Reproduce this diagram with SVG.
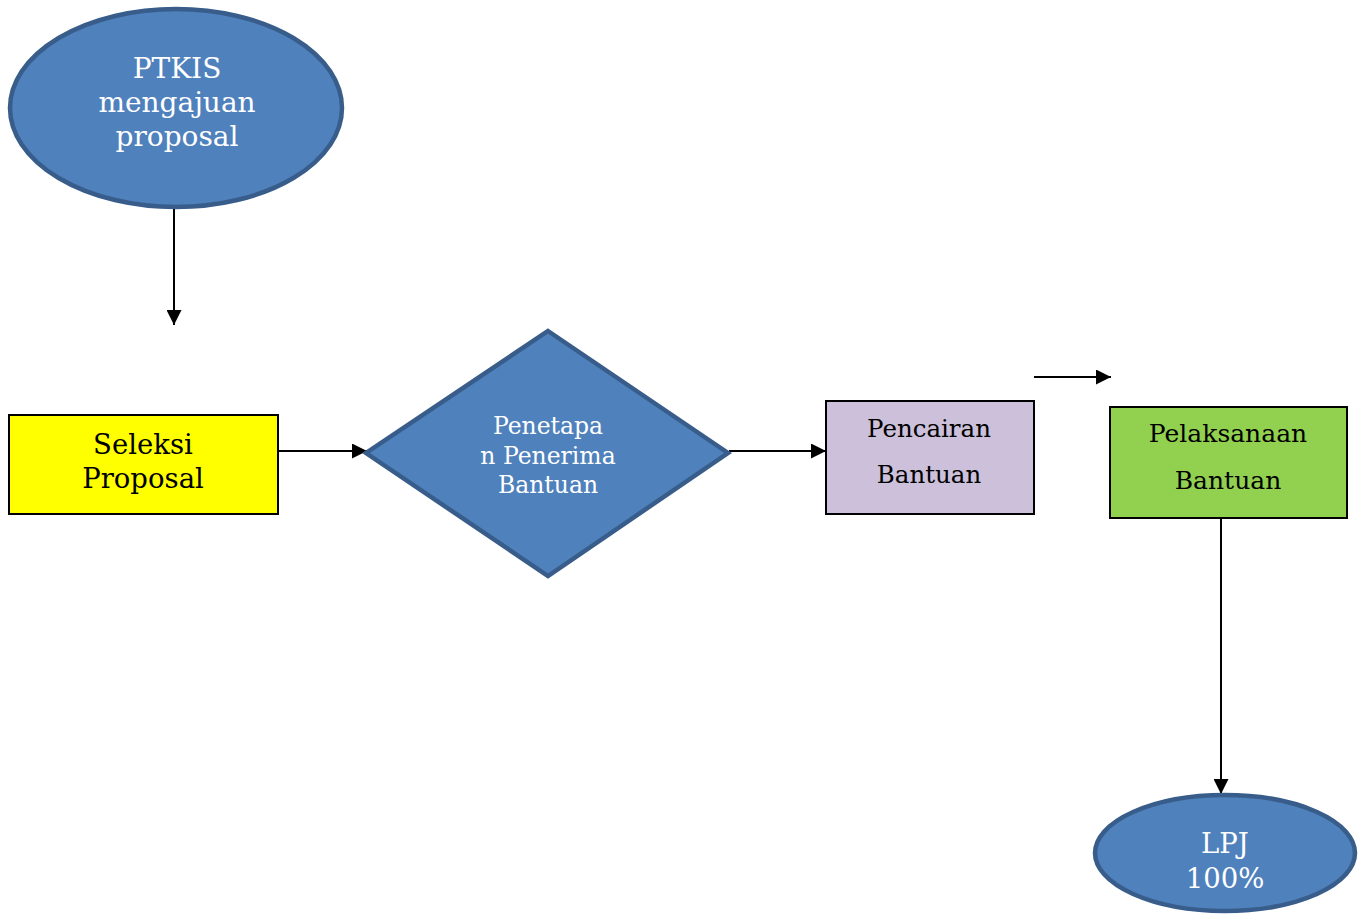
<svg xmlns="http://www.w3.org/2000/svg" width="1358" height="915" viewBox="0 0 1358 915">
<defs>
<marker id="arr" viewBox="0 0 10 10" refX="10" refY="5" markerWidth="15" markerHeight="15" markerUnits="userSpaceOnUse" orient="auto">
<path d="M0,0 L10,5 L0,10 z" fill="#000"/>
</marker>
<style>
.blue{fill:#4f81bd;stroke:#385d8a;stroke-width:4.5}
.box{stroke:#000;stroke-width:2}
.t{font-family:"DejaVu Serif","Liberation Serif",serif;text-anchor:middle}
.w{fill:#fff}
.k{fill:#000}
.c{stroke:#000;stroke-width:2;fill:none}
</style>
</defs>
<rect width="1358" height="915" fill="#fff"/>
<g id="connectors">
<line class="c" x1="174" y1="208" x2="174" y2="325" marker-end="url(#arr)"/>
<line class="c" x1="278" y1="451" x2="367" y2="451" marker-end="url(#arr)"/>
<line class="c" x1="729" y1="451" x2="826" y2="451" marker-end="url(#arr)"/>
<line class="c" x1="1034" y1="377" x2="1111" y2="377" marker-end="url(#arr)"/>
<line class="c" x1="1221" y1="518" x2="1221" y2="794" marker-end="url(#arr)"/>
</g>
<g id="ptkis">
<ellipse class="blue" cx="176" cy="108" rx="166" ry="99"/>
<text class="t w" font-size="28" x="177" y="78">PTKIS</text>
<text class="t w" font-size="28" x="177" y="112">mengajuan</text>
<text class="t w" font-size="28" x="177" y="146">proposal</text>
</g>
<g id="seleksi">
<rect class="box" x="9" y="415" width="269" height="99" fill="#ffff00"/>
<text class="t k" font-size="27.5" x="143" y="454">Seleksi</text>
<text class="t k" font-size="27.5" x="143" y="488">Proposal</text>
</g>
<g id="penetapan">
<polygon class="blue" points="548,331 728,453 548,576 366,453"/>
<text class="t w" font-size="23.5" x="548" y="434">Penetapa</text>
<text class="t w" font-size="23.5" x="548" y="464">n Penerima</text>
<text class="t w" font-size="23.5" x="548" y="493">Bantuan</text>
</g>
<g id="pencairan">
<rect class="box" x="826" y="401" width="208" height="113" fill="#ccc0da" stroke="#333"/>
<text class="t k" font-size="24.5" x="929" y="437">Pencairan</text>
<text class="t k" font-size="24.5" x="929" y="483">Bantuan</text>
</g>
<g id="pelaksanaan">
<rect class="box" x="1110" y="407" width="237" height="111" fill="#92d050"/>
<text class="t k" font-size="25" x="1228" y="442">Pelaksanaan</text>
<text class="t k" font-size="25" x="1228" y="489">Bantuan</text>
</g>
<g id="lpj">
<ellipse class="blue" cx="1225" cy="853" rx="130" ry="58"/>
<text class="t w" font-size="27.5" x="1225" y="853">LPJ</text>
<text class="t w" font-size="27.5" x="1225" y="888">100%</text>
</g>
</svg>
